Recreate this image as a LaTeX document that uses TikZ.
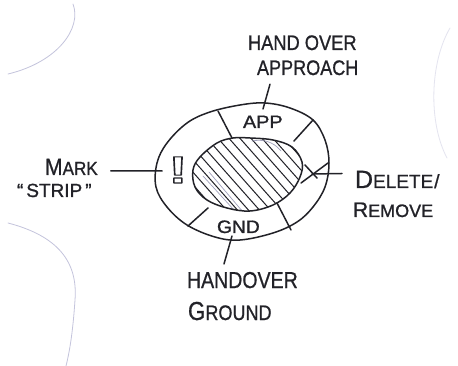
\documentclass[tikz,border=0pt]{standalone}
\usepackage{fontspec}
\setmainfont{Liberation Sans}
\usepackage{graphicx}
\definecolor{ink}{RGB}{34,34,40}
\definecolor{paperedge}{RGB}{196,196,220}
\definecolor{pencil}{RGB}{160,160,188}
\newcommand{\setfs}[1]{\fontsize{#1}{#1}\selectfont}
\newcommand{\sx}[2]{\scalebox{#1}[1]{#2}}
% text drawn with a thin stroke round the glyphs, for a pen-like weight
\newcommand{\inked}[1]{\special{pdf:literal direct 2 Tr 0.2 w}#1\special{pdf:literal direct 0 Tr}}
\begin{document}
\begin{tikzpicture}[x=1pt,y=-1pt,line cap=round,line join=round,
  pen/.style={draw=ink,line width=1.5pt},
  hatchline/.style={draw=ink,line width=1pt},
  softline/.style={draw=pencil,line width=0.7pt},
  edgeline/.style={draw=paperedge,line width=0.8pt},
  lbl/.style={text=ink,inner sep=0pt,outer sep=0pt,anchor=base west}]
\useasboundingbox (0,0) rectangle (458,366);
\fill[white] (0,0) rectangle (458,366);

% faint edges of the sheets lying underneath
\draw[edgeline] (73,4) .. controls (82,28) and (58,62) .. (8,74);
\draw[edgeline] (8,223) .. controls (58,236) and (78,262) .. (75,300) .. controls (73,330) and (70,350) .. (66,366);
\draw[edgeline,draw opacity=0.45] (450,28) .. controls (430,62) and (428,122) .. (447,158);

% hatched centre
\begin{scope}
  \clip plot[smooth cycle,tension=0.6] coordinates {(250,138) (273,140) (292,147) (302,162) (300,177) (290,193) (273,205) (250,211) (227,208) (207,200) (195,187) (193,170) (200,157) (217,143) (233,138)};
  \foreach \s in {112,123,...,288}
    \draw[hatchline] (\s,118) -- ++(92,104);
  \draw[softline] (203,176) -- (234,210);
  \draw[softline] (209,172) -- (243,212);
  \draw[softline] (252,141) .. controls (262,139) and (273,141) .. (281,151);
\end{scope}

% inner and outer ring outlines
\draw[pen] plot[smooth cycle,tension=0.6] coordinates {(250,138) (273,140) (292,147) (302,162) (300,177) (290,193) (273,205) (250,211) (227,208) (207,200) (195,187) (193,170) (200,157) (217,143) (233,138)};
\draw[pen] plot[smooth cycle,tension=0.6] coordinates {(240,105) (265,103) (290,108) (313,120) (325,140) (329,163) (325,187) (313,207) (297,222) (273,233) (240,240) (215,237) (187,225) (167,207) (156,187) (157,163) (167,143) (187,123) (210,112)};

% segment dividers
\draw[pen] (218,111) -- (232,138);
\draw[pen] (313,120) -- (294,141);
\draw[pen] (188,226) -- (208,208);
\draw[pen] (277,203) -- (291,230);

% segment marks
\node[lbl] (app) at (243,128) {\inked{\setfs{18}\sx{1.1}{APP}}};
\node[lbl] (gnd) at (217,233) {\inked{\setfs{18}\sx{1.07}{GND}}};
\node[lbl,anchor=base] (bang) at (178,183) {\setfs{38}\bfseries\special{pdf:literal direct 1 Tr 1.1 w}\sx{1.5}{!}\special{pdf:literal direct 0 Tr}};
\coordinate (xmark) at (312,174);
\draw[pen] ([shift={(-7,-9)}]xmark) -- ([shift={(5,4)}]xmark);
\draw[pen] ([shift={(-11,9)}]xmark) -- ([shift={(16,-11)}]xmark);

% callout labels
\node[lbl] (hoA) at (248,50) {\inked{\setfs{21}\sx{0.87}{HAND OVER}}};
\node[lbl] (hoB) at (257,75) {\inked{\setfs{21}\sx{0.86}{APPROACH}}};
\node[lbl] (mark) at (45,175) {\inked{\sx{0.9}{\setfs{23.5}M\setfs{19}ARK}}};
\node[lbl] (strip) at (17,197) {\inked{\setfs{19}“\hspace{3pt}STRIP\hspace{3pt}”}};
\node[lbl] (del) at (355,188) {\inked{\setfs{25}D\setfs{19}ELETE\hspace{1pt}/}};
\node[lbl] (rem) at (353,217) {\inked{\setfs{21}R\setfs{18}EMOVE}};
\node[lbl] (hgA) at (187,288) {\inked{\setfs{23}\sx{0.85}{HANDOVER}}};
\node[lbl] (hgB) at (188,320) {\inked{\sx{0.86}{\setfs{26}G\setfs{21}ROUND}}};

% leader lines
\coordinate (appRing) at (263,109);
\coordinate (markRing) at (162,171);
\coordinate (gndRing) at (232,236);
\draw[pen] ([shift={(13,9)}]hoB.south west) -- (appRing);
\draw[pen] ([shift={(13,4)}]mark.east) -- (markRing);
\draw[pen] (xmark) -- ([shift={(-13,-6)}]del.west);
\draw[pen] (gndRing) -- ([shift={(37,-8)}]hgA.north west);
\end{tikzpicture}
\end{document}
